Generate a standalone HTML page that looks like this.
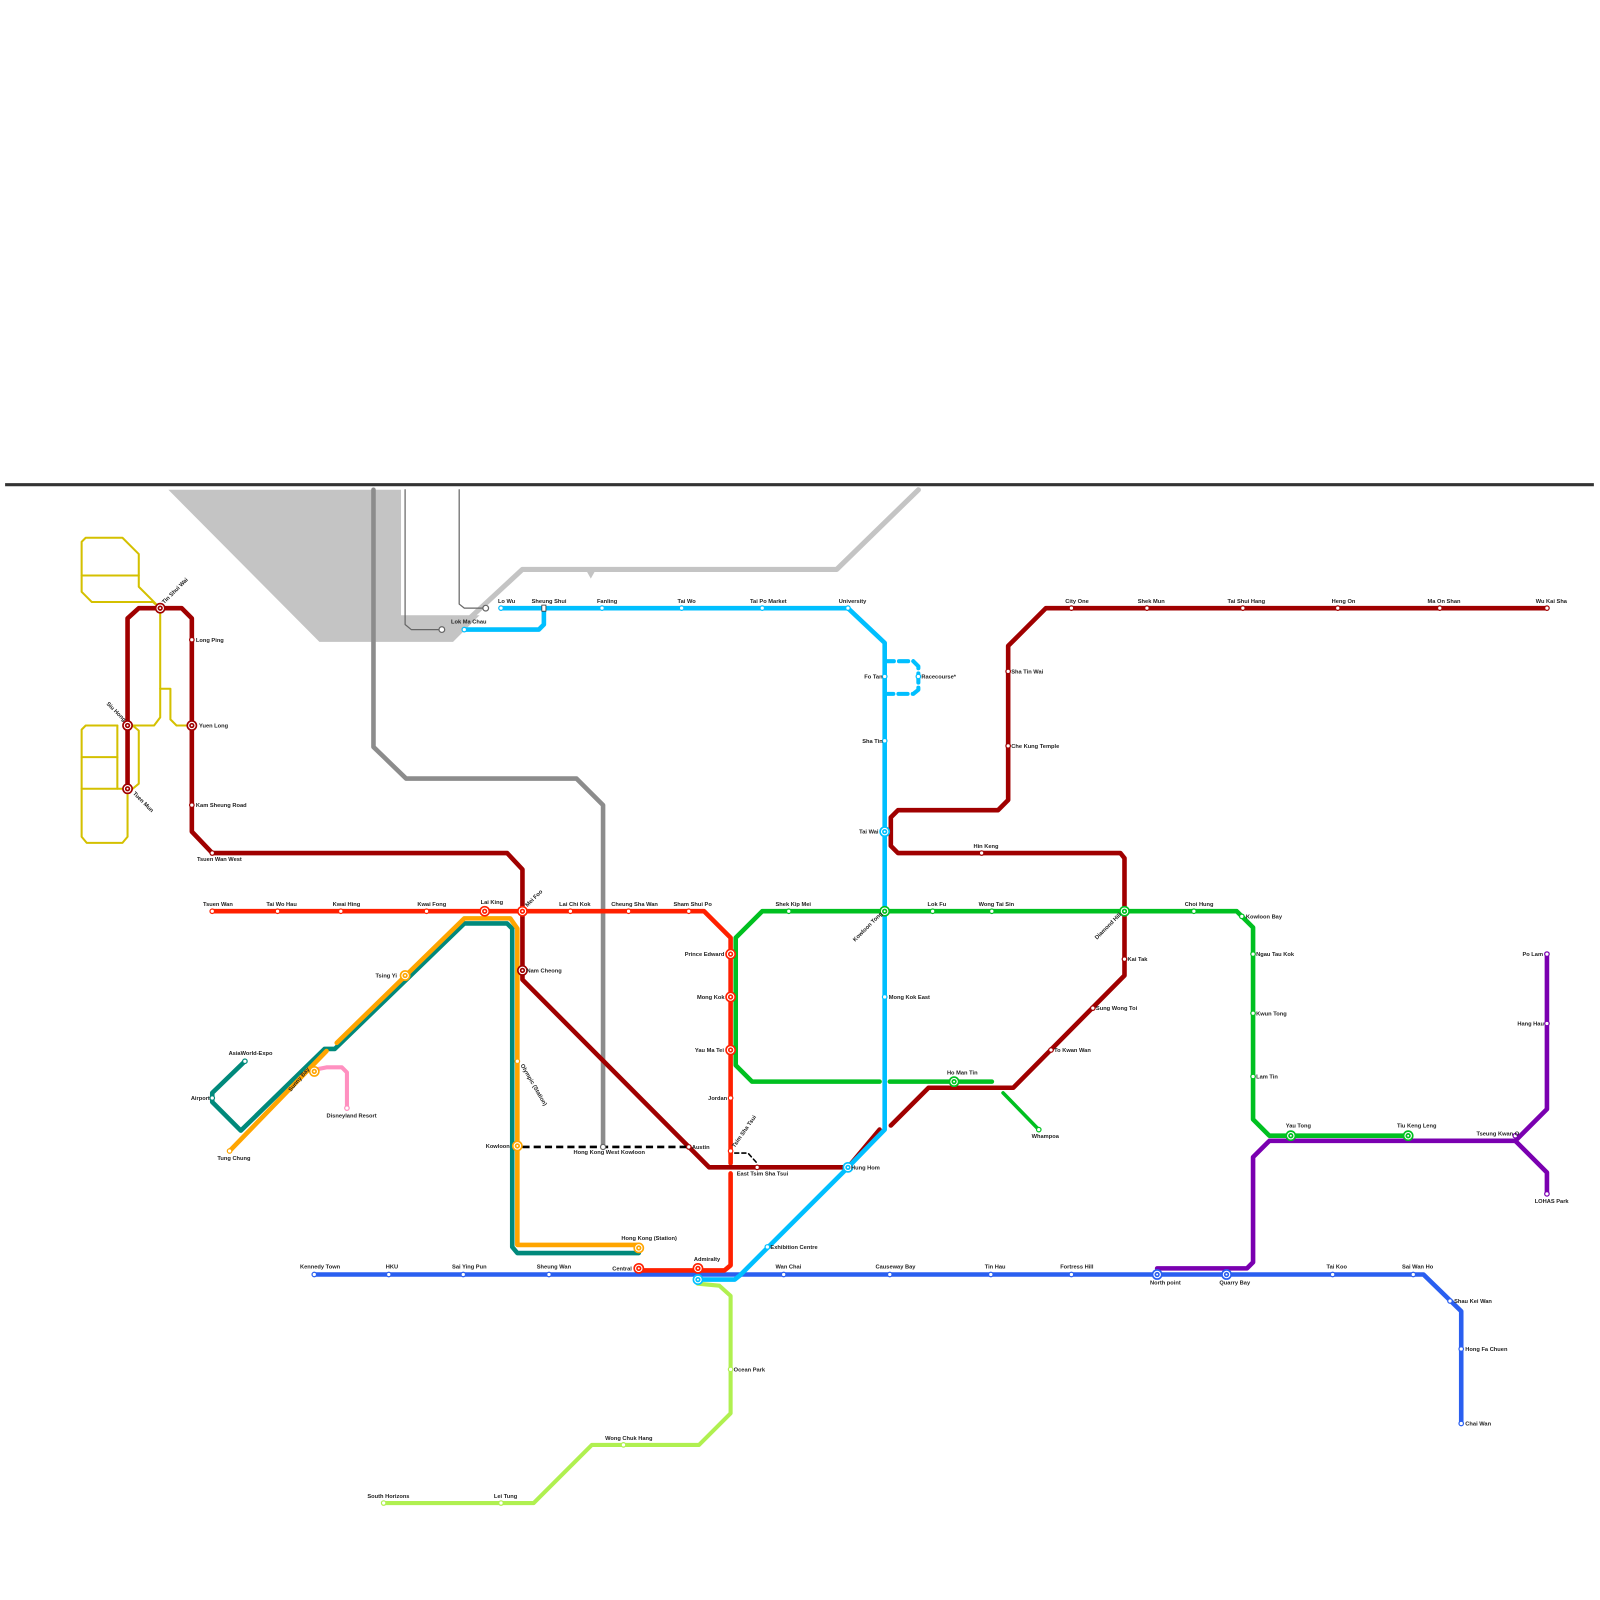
<!DOCTYPE html>
<html><head><meta charset="utf-8"><style>
html,body{margin:0;padding:0;background:#fff;}
svg{display:block;}
text{font-family:"Liberation Sans",sans-serif;font-size:5.6px;font-weight:bold;fill:#222;}
.l{fill:none;stroke-linejoin:round;stroke-linecap:round;}
</style></head><body>
<svg width="1600" height="1600" viewBox="0 0 1568 1568" xmlns="http://www.w3.org/2000/svg">
<rect width="1568" height="1568" fill="#fff"/>
<line x1="5" y1="475" x2="1562" y2="475" stroke="#333" stroke-width="3"/>
<!-- gray region -->
<polygon points="165,480 393,480 393,603 470,603 444,629 313,629" fill="#c4c4c4"/>
<polyline class="l" points="445,620 512,558 820,558 900,480" stroke="#c4c4c4" stroke-width="5"/>
<polygon points="575,560 583,560 579,567" fill="#c4c4c4"/>
<polyline class="l" points="366,480 366,732 398,763 565,763 591,789 591,1124" stroke="#8c8c8c" stroke-width="4.5"/>
<polyline class="l" points="397,480 397,612 403,617 433,617" stroke="#666" stroke-width="1.2"/>
<polyline class="l" points="450,480 450,592 455,596 476,596" stroke="#666" stroke-width="1.2"/>
<!-- yellow light rail -->
<g class="l" stroke="#d4c000" stroke-width="2">
<polyline points="157,596 136,575 136,543 120,527 84,527 80,531 80,580 90,590 150,590 157,596"/>
<line x1="80" y1="564" x2="136" y2="564"/>
<polyline points="157,596 157,703 151,711 130,711"/>
<polyline points="157,675 167,675 167,705 173,711 188,711"/>
<polyline points="115,711 84,711 80,715 80,820 85,826 120,826 125,820 125,773"/>
<line x1="80" y1="742" x2="115" y2="742"/>
<line x1="80" y1="773" x2="125" y2="773"/>
<line x1="115" y1="711" x2="115" y2="773"/>
<polyline points="130,711 136,716 136,768 130,773"/>
</g>
<!-- teal airport express -->
<polyline class="l" points="240,1040 208,1071 208,1080 236,1108 318,1028 328,1028 455,905 497,905 502,910 502,1222 507,1228 626,1228" stroke="#00897b" stroke-width="4.5"/>
<!-- orange Tung Chung -->
<polyline class="l" points="225,1128 320,1030" stroke="#ffa500" stroke-width="4.5"/>
<polyline class="l" points="330,1022 455,900 500,900 507,910 507,1220 626,1220 626,1223" stroke="#ffa500" stroke-width="4.5"/>
<!-- pink -->
<polyline class="l" points="310,1048 320,1046 335,1046 340,1051 340,1086" stroke="#ff90c0" stroke-width="4"/>
<!-- green kwun tong -->
<polyline class="l" points="862,1060 737,1060 721,1044 721,919 747,893 1212,893 1228,909 1228,1097 1244,1113 1380,1113" stroke="#00c020" stroke-width="4.5"/>
<polyline class="l" points="872,1060 972,1060" stroke="#00c020" stroke-width="4.5"/>
<polyline class="l" points="983,1071 1018,1107" stroke="#00c020" stroke-width="3.5"/>
<!-- purple -->
<polyline class="l" points="1134,1243 1222,1243 1228,1237 1228,1134 1244,1118 1485,1118 1516,1087 1516,935" stroke="#7a00b0" stroke-width="4.5"/>
<polyline class="l" points="1485,1118 1516,1149 1516,1170" stroke="#7a00b0" stroke-width="4.5"/>
<!-- blue island -->
<polyline class="l" points="308,1249 1395,1249 1432,1285 1432,1395" stroke="#2a5ff0" stroke-width="4.5"/>
<!-- light green south island -->
<polyline class="l" points="684,1258 705,1260 716,1270 716,1385 685,1416 580,1416 523,1473 376,1473" stroke="#b0f050" stroke-width="4"/>
<!-- red tsuen wan -->
<polyline class="l" points="208,893 690,893 716,919 716,1140" stroke="#ff2000" stroke-width="4.5"/>
<polyline class="l" points="716,1150 716,1240 710,1245 626,1245" stroke="#ff2000" stroke-width="4.5"/>
<!-- dark red Tuen Ma -->
<polyline class="l" points="1516,596 1025,596 988,633 988,784 978,794 880,794 873,801 873,829 880,836 1098,836 1102,841 1102,956 993,1066 910,1066 873,1103" stroke="#a00000" stroke-width="4.5"/>
<polyline class="l" points="862,1107 831,1144 695,1144 512,960 512,852 497,836 208,836 188,815 188,606 178,596 136,596 125,606 125,773" stroke="#a00000" stroke-width="4.5"/>
<!-- light blue east rail -->
<polyline class="l" points="491,596 831,596 867,630 867,1107 831,1144 725,1250 720,1254 684,1254" stroke="#00bfff" stroke-width="4.5"/>
<polyline class="l" points="455,617 528,617 533,612 533,596" stroke="#00bfff" stroke-width="4.5"/>
<polyline class="l" points="867,648 895,648 900,653 900,676 895,680 867,680" stroke="#00bfff" stroke-width="4" stroke-dasharray="9,5"/>
<!-- dashed -->
<line x1="512" y1="1124" x2="675" y2="1124" stroke="#000" stroke-width="2.5" stroke-dasharray="7,4"/>
<polyline class="l" points="720,1130 733,1130 742,1140" stroke="#000" stroke-width="1.5" stroke-dasharray="4,3"/>

<!-- stations small -->
<g fill="#fff" stroke-width="1.2">
<g stroke="#666"><circle cx="433" cy="617" r="2.8"/><circle cx="476" cy="596" r="2.8"/><circle cx="591" cy="1124" r="2.5"/></g>
<g stroke="#00bfff"><circle cx="491" cy="596" r="2.2"/><circle cx="455" cy="617" r="2.2"/><circle cx="590" cy="596" r="2.2"/><circle cx="668" cy="596" r="2.2"/><circle cx="747" cy="596" r="2.2"/><circle cx="831" cy="596" r="2.2"/><circle cx="867" cy="663" r="2.2"/><circle cx="900" cy="663" r="2.2"/><circle cx="867" cy="726" r="2.2"/><circle cx="867" cy="977" r="2.2"/><circle cx="752" cy="1222" r="2.2"/></g>
<rect x="531" y="593" width="4" height="6" stroke="#333" stroke-width="0.8"/>
<g stroke="#a00000"><circle cx="1050" cy="596" r="2.2"/><circle cx="1124" cy="596" r="2.2"/><circle cx="1218" cy="596" r="2.2"/><circle cx="1311" cy="596" r="2.2"/><circle cx="1411" cy="596" r="2.2"/><circle cx="1516" cy="596" r="2.2"/><circle cx="988" cy="658" r="2.2"/><circle cx="988" cy="731" r="2.2"/><circle cx="962" cy="836" r="2.2"/><circle cx="1102" cy="940" r="2.2"/><circle cx="1071" cy="988" r="2.2"/><circle cx="1030" cy="1029" r="2.2"/><circle cx="742" cy="1144" r="2.2"/><circle cx="675" cy="1124" r="2.2"/><circle cx="208" cy="836" r="2.2"/><circle cx="188" cy="789" r="2.2"/><circle cx="188" cy="627" r="2.2"/></g>
<g stroke="#ff2000"><circle cx="208" cy="893" r="2.2"/><circle cx="272" cy="893" r="2.2"/><circle cx="334" cy="893" r="2.2"/><circle cx="418" cy="893" r="2.2"/><circle cx="559" cy="893" r="2.2"/><circle cx="616" cy="893" r="2.2"/><circle cx="675" cy="893" r="2.2"/><circle cx="716" cy="1076" r="2.2"/><circle cx="716" cy="1128" r="2.2"/></g>
<g stroke="#00c020"><circle cx="773" cy="893" r="2.2"/><circle cx="914" cy="893" r="2.2"/><circle cx="972" cy="893" r="2.2"/><circle cx="1170" cy="893" r="2.2"/><circle cx="1217" cy="898" r="2.2"/><circle cx="1228" cy="935" r="2.2"/><circle cx="1228" cy="993" r="2.2"/><circle cx="1228" cy="1055" r="2.2"/><circle cx="1018" cy="1107" r="2.2"/></g>
<g stroke="#7a00b0"><circle cx="1516" cy="935" r="2.2"/><circle cx="1516" cy="1003" r="2.2"/><circle cx="1485" cy="1113" r="2.2"/><circle cx="1516" cy="1170" r="2.2"/></g>
<g stroke="#2a5ff0"><circle cx="308" cy="1249" r="2.2"/><circle cx="381" cy="1249" r="2.2"/><circle cx="454" cy="1249" r="2.2"/><circle cx="538" cy="1249" r="2.2"/><circle cx="768" cy="1249" r="2.2"/><circle cx="872" cy="1249" r="2.2"/><circle cx="971" cy="1249" r="2.2"/><circle cx="1050" cy="1249" r="2.2"/><circle cx="1306" cy="1249" r="2.2"/><circle cx="1385" cy="1249" r="2.2"/><circle cx="1421" cy="1275" r="2.2"/><circle cx="1432" cy="1322" r="2.2"/><circle cx="1432" cy="1395" r="2.2"/></g>
<g stroke="#b0f050"><circle cx="716" cy="1342" r="2.2"/><circle cx="611" cy="1416" r="2.2"/><circle cx="491" cy="1473" r="2.2"/><circle cx="376" cy="1473" r="2.2"/></g>
<g stroke="#00897b"><circle cx="240" cy="1040" r="2.2"/><circle cx="208" cy="1076" r="2.2"/></g>
<g stroke="#ffa500"><circle cx="225" cy="1128" r="2.2"/><circle cx="507" cy="1040" r="2.2"/></g>
<g stroke="#ff90c0"><circle cx="340" cy="1086" r="2.2"/></g>
</g>
<!-- interchanges -->
<g fill="#fff" stroke-width="1.6">
<g stroke="#a00000"><circle cx="157" cy="596" r="4.5"/><circle cx="157" cy="596" r="1.8"/><circle cx="188" cy="711" r="4.5"/><circle cx="188" cy="711" r="1.8"/><circle cx="125" cy="711" r="4.5"/><circle cx="125" cy="711" r="1.8"/><circle cx="125" cy="773" r="4.5"/><circle cx="125" cy="773" r="1.8"/><circle cx="512" cy="951" r="4.5"/><circle cx="512" cy="951" r="1.8"/></g>
<g stroke="#ff2000"><circle cx="475" cy="893" r="4.5"/><circle cx="475" cy="893" r="1.8"/><circle cx="512" cy="893" r="4.5"/><circle cx="512" cy="893" r="1.8"/><circle cx="716" cy="935" r="4.5"/><circle cx="716" cy="935" r="1.8"/><circle cx="716" cy="977" r="4.5"/><circle cx="716" cy="977" r="1.8"/><circle cx="716" cy="1029" r="4.5"/><circle cx="716" cy="1029" r="1.8"/><circle cx="684" cy="1243" r="4.5"/><circle cx="684" cy="1243" r="1.8"/><circle cx="626" cy="1243" r="4.5"/><circle cx="626" cy="1243" r="1.8"/></g>
<g stroke="#00bfff"><circle cx="867" cy="815" r="4.5"/><circle cx="867" cy="815" r="1.8"/><circle cx="831" cy="1144" r="4.5"/><circle cx="831" cy="1144" r="1.8"/><circle cx="684" cy="1254" r="4.5"/><circle cx="684" cy="1254" r="1.8"/></g>
<g stroke="#00c020"><circle cx="867" cy="893" r="4.5"/><circle cx="867" cy="893" r="1.8"/><circle cx="1102" cy="893" r="4.5"/><circle cx="1102" cy="893" r="1.8"/><circle cx="935" cy="1060" r="4.5"/><circle cx="935" cy="1060" r="1.8"/><circle cx="1265" cy="1113" r="4.5"/><circle cx="1265" cy="1113" r="1.8"/><circle cx="1380" cy="1113" r="4.5"/><circle cx="1380" cy="1113" r="1.8"/></g>
<g stroke="#ffa500"><circle cx="397" cy="956" r="4.5"/><circle cx="397" cy="956" r="1.8"/><circle cx="308" cy="1050" r="4.5"/><circle cx="308" cy="1050" r="1.8"/><circle cx="507" cy="1123" r="4.5"/><circle cx="507" cy="1123" r="1.8"/><circle cx="626" cy="1223" r="4.5"/><circle cx="626" cy="1223" r="1.8"/></g>
<g stroke="#2a5ff0"><circle cx="1134" cy="1249" r="4.5"/><circle cx="1134" cy="1249" r="1.8"/><circle cx="1202" cy="1249" r="4.5"/><circle cx="1202" cy="1249" r="1.8"/></g>
</g>

<!-- labels -->
<g>
<text x="488" y="591">Lo Wu</text><text x="521" y="591">Sheung Shui</text><text x="585" y="591">Fanling</text><text x="664" y="591">Tai Wo</text><text x="735" y="591">Tai Po Market</text><text x="822" y="591">University</text>
<text x="442" y="611">Lok Ma Chau</text>
<text x="847" y="665">Fo Tan</text><text x="903" y="665">Racecourse*</text><text x="845" y="728">Sha Tin</text><text x="842" y="817">Tai Wai</text><text x="871" y="979">Mong Kok East</text>
<text x="1044" y="591">City One</text><text x="1115" y="591">Shek Mun</text><text x="1203" y="591">Tai Shui Hang</text><text x="1305" y="591">Heng On</text><text x="1399" y="591">Ma On Shan</text><text x="1505" y="591">Wu Kai Sha</text>
<text x="991" y="660">Sha Tin Wai</text><text x="991" y="733">Che Kung Temple</text><text x="954" y="831">Hin Keng</text>
<text x="1105" y="942">Kai Tak</text><text x="1074" y="990">Sung Wong Toi</text><text x="1033" y="1031">To Kwan Wan</text><text x="928" y="1053">Ho Man Tin</text>
<text x="834" y="1146">Hung Hom</text><text x="722" y="1152">East Tsim Sha Tsui</text><text x="678" y="1126">Austin</text><text x="562" y="1131">Hong Kong West Kowloon</text>
<text x="192" y="629">Long Ping</text><text x="195" y="713">Yuen Long</text><text x="192" y="791">Kam Sheung Road</text><text x="193" y="844">Tsuen Wan West</text><text x="516" y="953">Nam Cheong</text>
<text x="199" y="888">Tsuen Wan</text><text x="261" y="888">Tai Wo Hau</text><text x="326" y="888">Kwai Hing</text><text x="409" y="888">Kwai Fong</text><text x="471" y="886">Lai King</text><text x="548" y="888">Lai Chi Kok</text><text x="599" y="888">Cheung Sha Wan</text><text x="660" y="888">Sham Shui Po</text>
<text x="671" y="937">Prince Edward</text><text x="683" y="979">Mong Kok</text><text x="681" y="1031">Yau Ma Tei</text><text x="694" y="1078">Jordan</text>
<text x="760" y="888">Shek Kip Mei</text><text x="909" y="888">Lok Fu</text><text x="959" y="888">Wong Tai Sin</text><text x="1161" y="888">Choi Hung</text><text x="1221" y="900">Kowloon Bay</text><text x="1231" y="937">Ngau Tau Kok</text><text x="1231" y="995">Kwun Tong</text><text x="1231" y="1057">Lam Tin</text><text x="1011" y="1115">Whampoa</text>
<text x="1260" y="1105">Yau Tong</text><text x="1369" y="1105">Tiu Keng Leng</text><text x="1447" y="1113">Tseung Kwan O</text><text x="1492" y="937">Po Lam</text><text x="1487" y="1005">Hang Hau</text><text x="1504" y="1179">LOHAS Park</text>
<text x="294" y="1243">Kennedy Town</text><text x="378" y="1243">HKU</text><text x="443" y="1243">Sai Ying Pun</text><text x="526" y="1243">Sheung Wan</text><text x="600" y="1245">Central</text><text x="680" y="1236">Admiralty</text><text x="760" y="1243">Wan Chai</text><text x="858" y="1243">Causeway Bay</text><text x="965" y="1243">Tin Hau</text><text x="1039" y="1243">Fortress Hill</text><text x="1127" y="1259">North point</text><text x="1195" y="1259">Quarry Bay</text><text x="1300" y="1243">Tai Koo</text><text x="1374" y="1243">Sai Wan Ho</text><text x="1425" y="1277">Shau Kei Wan</text><text x="1436" y="1324">Hong Fa Chuen</text><text x="1436" y="1397">Chai Wan</text>
<text x="755" y="1224">Exhibition Centre</text><text x="609" y="1215">Hong Kong (Station)</text>
<text x="719" y="1344">Ocean Park</text><text x="593" y="1411">Wong Chuk Hang</text><text x="484" y="1468">Lei Tung</text><text x="360" y="1468">South Horizons</text>
<text x="368" y="958">Tsing Yi</text><text x="476" y="1125">Kowloon</text><text x="224" y="1034">AsiaWorld-Expo</text><text x="187" y="1078">Airport</text><text x="213" y="1137">Tung Chung</text><text x="320" y="1095">Disneyland Resort</text>
<text transform="translate(161,592) rotate(-45)">Tin Shui Wai</text>
<text transform="translate(104,690) rotate(45)">Siu Hong</text>
<text transform="translate(130,778) rotate(45)">Tuen Mun</text>
<text transform="translate(517,889) rotate(-45)">Mei Foo</text>
<text transform="translate(510,1044) rotate(60)">Olympic (Station)</text>
<text transform="translate(285,1070) rotate(-50)">Sunny Bay</text>
<text transform="translate(720,1125) rotate(-55)">Tsim Sha Tsui</text>
<text transform="translate(838,923) rotate(-45)">Kowloon Tong</text>
<text transform="translate(1075,921) rotate(-45)">Diamond Hill</text>
</g>
</svg>
</body></html>
